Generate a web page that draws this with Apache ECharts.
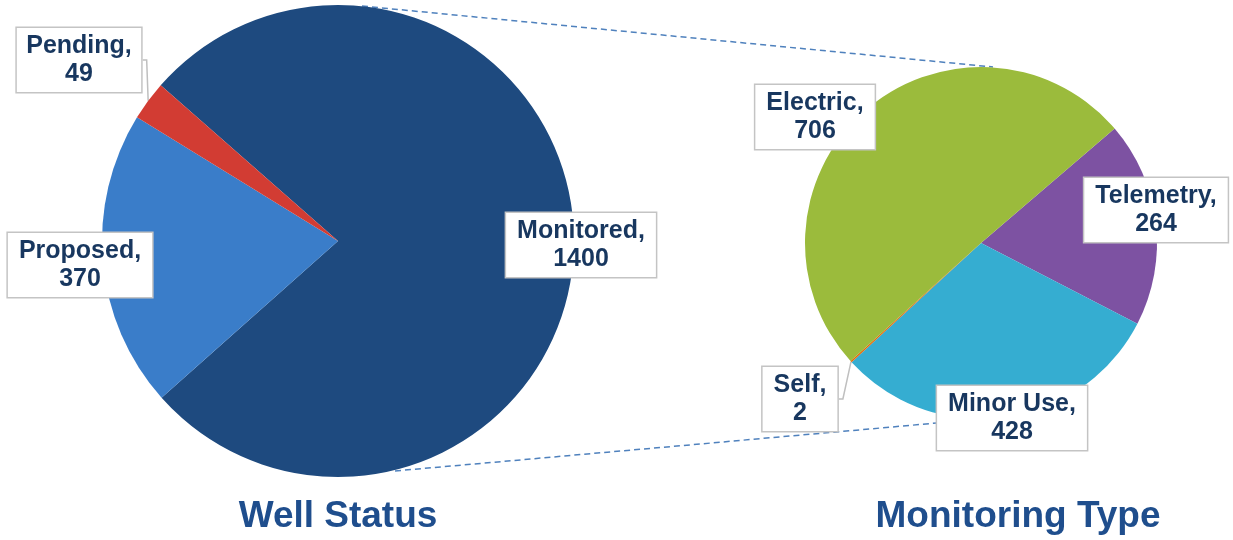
<!DOCTYPE html>
<html>
<head>
    <meta charset="utf-8"/>
    <title>Well Status / Monitoring Type</title>
    <script src="https://cdn.jsdelivr.net/npm/echarts@6/dist/echarts.min.js"></script>
    <style>
        html, body { margin: 0; padding: 0; background: #fff; }
        #main { width: 1233px; height: 540px; }
    </style>
</head>
<body>
<div id="main"></div>
<script>
    // 数据
    var statusNames = ['Monitored', 'Proposed', 'Pending'];
    var statusValues = [1400, 370, 49];
    var statusColors = ['#1e4a7f', '#3a7dc9', '#d23c33'];

    var typeNames = ['Telemetry', 'Minor Use', 'Self', 'Electric'];
    var typeValues = [264, 428, 2, 706];
    var typeColors = ['#7d52a2', '#35add1', '#e46c0a', '#9bbb3c'];

    // 标签中心位置 (px)
    var statusLabelPos = [[581, 245], [80, 265], [79, 60]];
    var typeLabelPos = [[1156, 210], [1012, 418], [800, 399], [815, 117]];
    var statusCallout = [false, false, true];
    var typeCallout = [false, false, true, false];

    function buildData(names, values, colors, callout) {
        return names.map(function (n, i) {
            return {
                name: n,
                value: values[i],
                itemStyle: { color: colors[i] },
                label: { position: callout[i] ? 'outside' : 'inside' },
                labelLine: { show: callout[i] }
            };
        });
    }

    var labelStyle = {
        show: true,
        formatter: '{b},\n{c}',
        fontFamily: 'Arial',
        fontWeight: 'bold',
        fontSize: 25,
        lineHeight: 28,
        color: '#18375f',
        align: 'center',
        overflow: 'none',
        backgroundColor: '#ffffff',
        borderColor: '#c4c4c4',
        borderWidth: 1.5,
        padding: [4, 11]
    };

    var titleStyle = { fontFamily: 'Arial', fontSize: 37, fontWeight: 'bold', color: '#1f4e8d' };

    var myChart = echarts.init(document.getElementById('main'));
    var option = {
        animation: false,
        title: [
            { text: 'Well Status', left: 333, top: 493, textAlign: 'center', textStyle: titleStyle },
            { text: 'Monitoring Type', left: 1013, top: 493, textAlign: 'center', textStyle: titleStyle }
        ],
        graphic: [
            {
                type: 'line', z: 0, silent: true,
                shape: { x1: 362, y1: 6, x2: 993, y2: 67 },
                style: { stroke: '#4f81bd', lineWidth: 1.5, lineDash: [6, 4] }
            },
            {
                type: 'line', z: 0, silent: true,
                shape: { x1: 395, y1: 471, x2: 937, y2: 423 },
                style: { stroke: '#4f81bd', lineWidth: 1.5, lineDash: [6, 4] }
            }
        ],
        series: [
            {
                name: 'Well Status',
                type: 'pie',
                center: [338, 241],
                radius: 236,
                startAngle: 138.7,
                z: 2,
                label: labelStyle,
                labelLine: { lineStyle: { color: '#bfbfbf', width: 1.5 }, length: 6, length2: 4 },
                labelLayout: function (p) {
                    var pos = statusLabelPos[p.dataIndex];
                    return { x: pos[0], y: pos[1], align: 'center', verticalAlign: 'middle' };
                },
                emphasis: { disabled: true },
                data: buildData(statusNames, statusValues, statusColors, statusCallout)
            },
            {
                name: 'Monitoring Type',
                type: 'pie',
                center: [981, 243],
                radius: 176,
                startAngle: 40.6,
                z: 2,
                label: labelStyle,
                labelLine: { lineStyle: { color: '#bfbfbf', width: 1.5 }, length: 6, length2: 4 },
                labelLayout: function (p) {
                    var pos = typeLabelPos[p.dataIndex];
                    return { x: pos[0], y: pos[1], align: 'center', verticalAlign: 'middle' };
                },
                emphasis: { disabled: true },
                data: buildData(typeNames, typeValues, typeColors, typeCallout)
            }
        ]
    };
    myChart.setOption(option);

    window.onresize = function () {
        myChart.resize();
    };
</script>
</body>
</html>
